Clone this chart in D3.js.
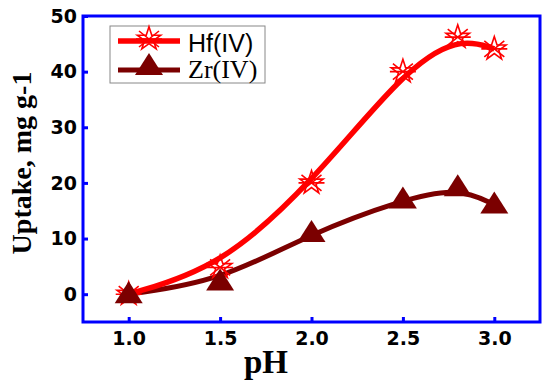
<!DOCTYPE html>
<html>
  <head>
    <meta charset="utf-8" />
    <title>Uptake vs pH</title>
    <script src="https://d3js.org/d3.v7.min.js"></script>
    <style>
      body { margin: 0; background: white; }
    </style>
  </head>
  <body>
    <svg id="chart" width="550" height="386"></svg>
  </body>
  <script>
    // values
    var phValues = [1.0, 1.5, 2.0, 2.5, 2.8, 3.0];
    var hfUptake = [0, 4.8, 20, 40, 46.2, 44.1];
    var zrUptake = [0, 2.3, 11, 17, 19.2, 16.1];
    var xTicks = [1.0, 1.5, 2.0, 2.5, 3.0];
    var yTicks = [0, 10, 20, 30, 40, 50];
    var seriesNames = ["Hf(IV)", "Zr(IV)"];

    // note: "top" is a reserved window property, so use other names
    var plotLeft = 83, plotTop = 16, plotW = 457, plotH = 306;
    var svg = d3.select("#chart");

    var x = d3.scaleLinear().domain([0.75, 3.25]).range([plotLeft, plotLeft + plotW]);
    var y = d3.scaleLinear().domain([-5, 50]).range([plotTop + plotH, plotTop]);

    // frame
    svg.append("rect")
      .attr("x", plotLeft).attr("y", plotTop)
      .attr("width", plotW).attr("height", plotH)
      .attr("fill", "none")
      .attr("stroke", "#0000ff")
      .attr("stroke-width", 3);

    // axes, ticks pointing inward
    var xAxis = svg.append("g")
      .attr("transform", "translate(0," + (plotTop + plotH) + ")")
      .call(d3.axisBottom(x).tickValues(xTicks).tickFormat(d3.format(".1f"))
        .tickSizeInner(-5).tickSizeOuter(0).tickPadding(10));
    var yAxis = svg.append("g")
      .attr("transform", "translate(" + plotLeft + ",0)")
      .call(d3.axisLeft(y).tickValues(yTicks)
        .tickSizeInner(-5).tickSizeOuter(0).tickPadding(6));

    [xAxis, yAxis].forEach(function(ax){
      ax.select(".domain").remove();
      ax.selectAll("line").attr("stroke", "#0000ff").attr("stroke-width", 3);
      ax.selectAll("text")
        .attr("fill", "black")
        .style("font-family", "'DejaVu Sans', sans-serif")
        .style("font-weight", "bold")
        .style("font-size", "19px");
    });

    // axis titles
    svg.append("text")
      .attr("x", 266).attr("y", 373)
      .attr("text-anchor", "middle")
      .style("font-family", "'Liberation Serif', 'Times New Roman', serif")
      .style("font-weight", "bold")
      .style("font-size", "33px")
      .text("pH");
    svg.append("text")
      .attr("transform", "translate(31,163) rotate(-90)")
      .attr("text-anchor", "middle")
      .style("font-family", "'Liberation Serif', 'Times New Roman', serif")
      .style("font-weight", "bold")
      .style("font-size", "28px")
      .text("Uptake, mg g-1");

    // curves
    var line = d3.line().curve(d3.curveBasis)
      .x(function(d){ return x(d[0]); })
      .y(function(d){ return y(d[1]); });

    var hfData = phValues.map(function(p, i){ return [p, hfUptake[i]]; });
    var zrData = phValues.map(function(p, i){ return [p, zrUptake[i]]; });

    var hfColor = "#ff0000", zrColor = "#7b0000";

    svg.append("path").datum(zrData)
      .attr("d", line).attr("fill", "none")
      .attr("stroke", zrColor).attr("stroke-width", 5);
    svg.append("path").datum(hfData)
      .attr("d", line).attr("fill", "none")
      .attr("stroke", hfColor).attr("stroke-width", 5.5);

    // marker helpers
    var star = d3.symbol().type(d3.symbolStar).size(170);
    var drawStar = function(g){
      g.append("path").attr("d", star())
        .attr("fill", "none")
        .attr("stroke", hfColor).attr("stroke-width", 1.6);
      g.append("path")
        .attr("d", "M-13,0H13M-10,-8L10,8M-10,8L10,-8")
        .attr("stroke", hfColor).attr("stroke-width", 1.6);
    };
    var tri = "M0,-13L14,9L-14,9Z";
    var drawTri = function(g){
      g.append("path").attr("d", tri).attr("fill", zrColor);
    };

    svg.selectAll(".hf").data(hfData).enter().append("g")
      .attr("class", "hf")
      .attr("transform", function(d){ return "translate(" + x(d[0]) + "," + y(d[1]) + ")"; })
      .each(function(){ drawStar(d3.select(this)); });
    svg.selectAll(".zr").data(zrData).enter().append("g")
      .attr("class", "zr")
      .attr("transform", function(d){ return "translate(" + x(d[0]) + "," + y(d[1]) + ")"; })
      .each(function(){ drawTri(d3.select(this)); });

    // legend
    var legend = svg.append("g");
    legend.append("rect")
      .attr("x", 110).attr("y", 26).attr("width", 155).attr("height", 57)
      .attr("fill", "white").attr("stroke", "#888").attr("stroke-width", 1);

    var hfLeg = legend.append("g");
    hfLeg.append("line").attr("x1", 118).attr("x2", 180).attr("y1", 41).attr("y2", 41)
      .attr("stroke", hfColor).attr("stroke-width", 5.5);
    drawStar(hfLeg.append("g").attr("transform", "translate(149,39)"));
    hfLeg.append("text").attr("x", 188).attr("y", 52)
      .style("font-family", "'Liberation Sans', Arial, sans-serif")
      .style("font-size", "25px")
      .text(seriesNames[0]);

    var zrLeg = legend.append("g");
    zrLeg.append("line").attr("x1", 118).attr("x2", 180).attr("y1", 70).attr("y2", 70)
      .attr("stroke", zrColor).attr("stroke-width", 5);
    drawTri(zrLeg.append("g").attr("transform", "translate(149,66)"));
    zrLeg.append("text").attr("x", 188).attr("y", 78)
      .style("font-family", "'Liberation Serif', 'Times New Roman', serif")
      .style("font-size", "26px")
      .text(seriesNames[1]);
  </script>
</html>
